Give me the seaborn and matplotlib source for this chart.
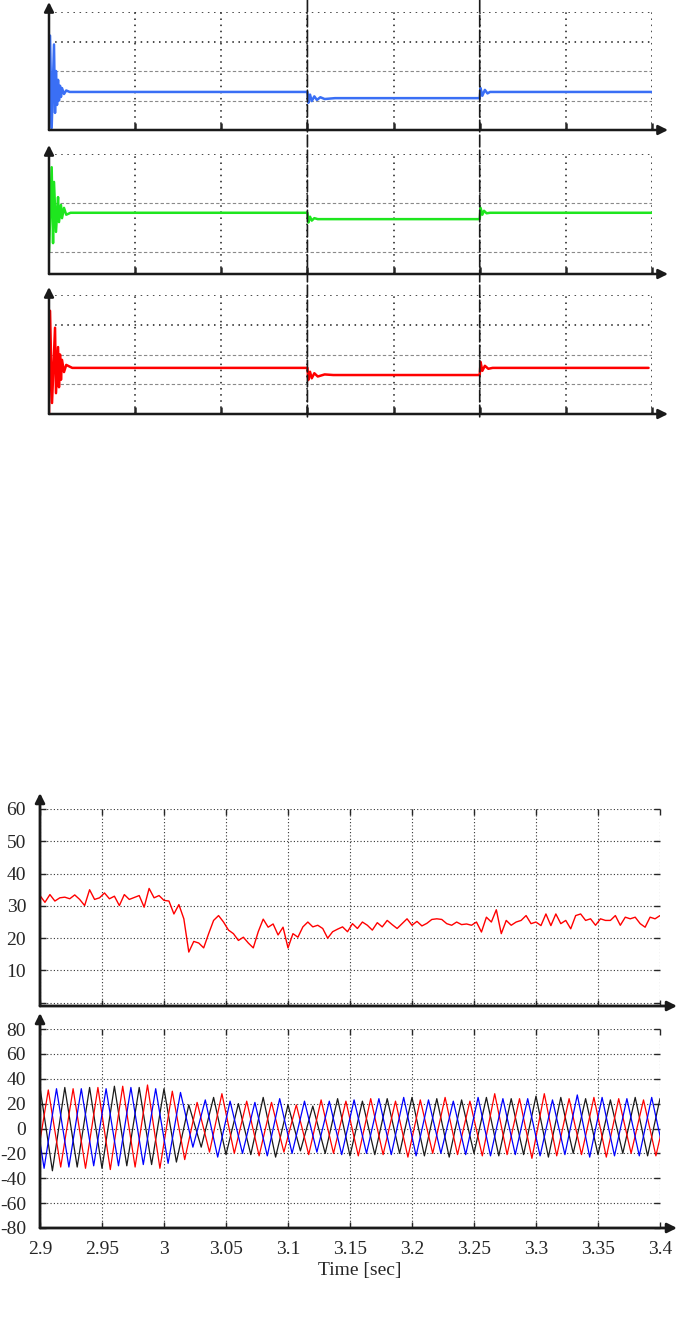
import numpy as np
import seaborn as sns
import matplotlib.pyplot as plt
from matplotlib.patches import ConnectionPatch

## Data

# top three traces: break points (time unit = one grid cell)
blue_t = [0, 0.012, 0.031, 0.058, 0.07, 0.081, 0.093, 0.105, 0.116, 0.128, 0.139, 0.151,
          0.174, 0.2, 0.24, 3.0, 3.01, 3.03, 3.05, 3.08, 3.11, 3.15, 3.2, 3.32,
          5.0, 5.01, 5.03, 5.06, 5.09, 5.12, 7.0]
blue_v = [0, 3.2, 0.07, 2.9, 0.58, 2.0, 0.85, 1.7, 1.0, 1.5, 1.12, 1.42,
          1.22, 1.34, 1.29, 1.29, 0.92, 1.2, 0.98, 1.14, 1.02, 1.11, 1.05, 1.08,
          1.08, 1.42, 1.16, 1.36, 1.24, 1.29, 1.29]

green_t = [0, 0.031, 0.047, 0.058, 0.081, 0.105, 0.116, 0.139, 0.151, 0.174, 0.2, 0.25,
           3.0, 3.01, 3.03, 3.05, 3.08, 3.12, 5.0, 5.01, 5.03, 5.05, 5.08, 5.12, 7.0]
green_v = [0, 1.73, 0.18, 1.43, 0.41, 1.12, 0.61, 0.96, 0.69, 0.9, 0.76, 0.8,
           0.8, 0.6, 0.72, 0.64, 0.69, 0.67, 0.67, 0.9, 0.76, 0.84, 0.79, 0.8, 0.8]

red_t = [0, 0.012, 0.035, 0.07, 0.081, 0.105, 0.116, 0.128, 0.139, 0.151, 0.174, 0.2, 0.27,
         3.0, 3.01, 3.03, 3.05, 3.08, 3.12, 3.2, 3.3, 5.0, 5.01, 5.03, 5.06, 5.1, 5.15, 6.96]
red_v = [0, 3.47, 0.37, 2.9, 0.7, 2.25, 0.9, 2.0, 1.15, 1.82, 1.41, 1.65, 1.55,
         1.55, 1.14, 1.42, 1.2, 1.37, 1.26, 1.33, 1.31, 1.31, 1.75, 1.45, 1.62, 1.52, 1.55, 1.55]

events = [3, 5]

# bottom: measured signal, 126 samples from 2.9 to 3.4 s
sig_v = [33.2, 31.1, 33.5, 31.5, 32.5, 32.7, 32.2, 33.4, 32.0, 30.1, 35.0,
         32.0, 32.5, 34.0, 32.2, 33.0, 30.1, 33.5, 32.0, 32.6, 33.2,
         29.6, 35.4, 32.5, 33.2, 31.7, 31.5, 27.5, 30.4, 26.0, 15.7,
         19.0, 18.5, 17.0, 21.4, 25.5, 27.0, 25.0, 22.5, 21.4, 19.3,
         20.3, 18.5, 17.0, 22.0, 25.9, 23.4, 24.4, 21.0, 23.4, 17.0,
         21.4, 20.3, 23.5, 25.0, 23.5, 24.0, 23.0, 20.0, 22.0, 22.8,
         23.5, 22.0, 24.5, 23.0, 25.0, 24.0, 22.5, 24.8, 23.5, 25.5,
         24.2, 23.0, 24.5, 26.0, 24.0, 25.2, 23.8, 24.6, 25.8, 26.0,
         25.8, 24.5, 24.0, 25.0, 24.2, 24.4, 24.0, 25.0, 21.9, 26.5,
         25.0, 28.8, 21.4, 25.5, 24.0, 25.0, 25.5, 27.0, 24.5, 25.0,
         23.9, 27.5, 23.9, 27.5, 24.5, 25.5, 22.9, 27.0, 27.5, 25.5,
         26.0, 24.0, 26.0, 25.5, 25.5, 27.0, 24.0, 26.5, 26.0, 26.5,
         24.5, 23.4, 26.5, 26.0, 27.0]

# three phase currents: successive peaks / troughs, one every 0.01 s
black_ext = [-32, 33, -34, 33, -31, 33, -32, 34, -30, 33, -29, 32, -27, 19, -15, 25, -21, 20,
             -21, 25, -23, 19, -18, 18, -20, 24, -22, 22, -21, 24, -20, 25, -22, 24, -23, 23,
             -20, 25, -22, 24, -21, 26, -23, 25, -20, 24, -21, 23, -20, 25, -22, 24, -20]
red_ext = [-30, 31, -31, 32, -32, 33, -33, 34, -31, 35, -32, 30, -25, 21, -19, 28, -20, 22,
           -22, 21, -19, 19, -21, 23, -20, 22, -22, 24, -21, 22, -23, 23, -20, 25, -21, 22,
           -22, 28, -21, 24, -24, 28, -22, 24, -21, 25, -23, 24, -20, 23, -22, 22, -21]
blue_ext = [32, -32, 32, -31, 32, -30, 32, -30, 33, -29, 32, -28, 29, -15, 23, -23, 22, -20,
            21, -22, 24, -20, 22, -19, 22, -21, 23, -20, 24, -21, 25, -22, 23, -20, 22, -21,
            25, -22, 24, -21, 24, -22, 23, -21, 27, -23, 25, -22, 24, -22, 25, -21, 24]
phase_start = [2.89, 2.8967, 2.8933]   # time of first extremum (black, red, blue)

xticks_bottom = [2.9, 2.95, 3.0, 3.05, 3.1, 3.15, 3.2, 3.25, 3.3, 3.35, 3.4]
xlabels_bottom = ["2.9", "2.95", "3", "3.05", "3.1", "3.15", "3.2", "3.25", "3.3", "3.35", "3.4"]
yticks_sig = [0, 10, 20, 30, 40, 50, 60]
ylabels_sig = ["", "10", "20", "30", "40", "50", "60"]
yticks_cur = [-80, -60, -40, -20, 0, 20, 40, 60, 80]
ylabels_cur = ["-80", "-60", "-40", "-20", "0", "20", "40", "60", "80"]

## Style
sns.set_theme(style="white")
plt.rcParams["font.family"] = ["Liberation Serif", "DejaVu Serif"]
plt.rcParams["axes.unicode_minus"] = False

W, H = 679, 1324
fig = plt.figure(figsize=(W / 100, H / 100), dpi=100)


def box(l, t, r, b):
    return [l / W, 1 - b / H, (r - l) / W, (b - t) / H]


def arrows(ax, dx, dy, lw):
    # axis lines with arrow heads, dx/dy = overshoot in pixels
    pos = ax.get_position()
    fx = 1 + dx / (pos.width * W)
    fy = 1 + dy / (pos.height * H)
    kw = dict(arrowstyle="-|>", color="k", lw=lw, mutation_scale=14, shrinkA=0, shrinkB=0)
    ax.annotate("", xy=(fx, 0), xytext=(0, 0), xycoords="axes fraction",
                arrowprops=kw, annotation_clip=False)
    ax.annotate("", xy=(0, fy), xytext=(0, 0), xycoords="axes fraction",
                arrowprops=kw, annotation_clip=False)
    for s in ax.spines.values():
        s.set_visible(False)


## Top three panels
top_boxes = [(49, 12, 652, 130), (49, 154, 652, 274), (49, 295, 652, 414)]
top_ylims = [(0, 4), (-0.45, 2), (0, 4)]
top_data = [(blue_t, blue_v, "#3a6ff5"), (green_t, green_v, "#1ee61e"), (red_t, red_v, "#ff0000")]
top_axes = []
for bx, yl, (t, v, c) in zip(top_boxes, top_ylims, top_data):
    ax = fig.add_axes(box(*bx))
    sns.lineplot(x=t, y=v, ax=ax, color=c, lw=1.8, estimator=None, sort=False)
    ax.set_xlim(0, 7)
    ax.set_ylim(*yl)
    ax.set_xticks(range(1, 8))
    ax.set_yticks(np.arange(np.ceil(yl[0]), yl[1] + 0.1, 1))
    ax.set_xticklabels([])
    ax.set_yticklabels([])
    ax.tick_params(axis="x", direction="in", length=5, width=1.8, bottom=True)
    ax.tick_params(axis="y", length=0)
    ax.grid(True, axis="x", color="k", ls=(0, (1, 3)), lw=1.1)
    ax.grid(True, axis="y")
    for gl, val in zip(ax.get_ygridlines(), ax.get_yticks()):
        if val >= yl[1] - 1.5 and yl[1] > 2:
            gl.set(color="k", ls=(0, (1, 3)), lw=1.1)
        elif val == yl[1]:
            gl.set(color="k", ls=(0, (1, 3)), lw=1.1)
        else:
            gl.set(color="#8a8a8a", ls=(0, (3, 2)), lw=0.8)
    ax.set_xlabel("")
    ax.set_ylabel("")
    top_axes.append(ax)

arrows(top_axes[0], 16, 10, 1.8)
arrows(top_axes[1], 16, 9, 1.8)
arrows(top_axes[2], 16, 8, 1.8)

# switching instants, dashed through all three panels
for ev in events:
    con = ConnectionPatch(xyA=(ev, 1.1), coordsA=top_axes[0].get_xaxis_transform(),
                          xyB=(ev, -0.05), coordsB=top_axes[2].get_xaxis_transform(),
                          color="k", lw=1.2, ls=(0, (7, 2)))
    fig.add_artist(con)

## Bottom two panels
ax4 = fig.add_axes(box(40, 809, 660, 1006))
ax5 = fig.add_axes(box(40, 1029, 660, 1228))

t_sig = np.linspace(2.9, 3.4, len(sig_v))
sns.lineplot(x=t_sig, y=sig_v, ax=ax4, color="#ff0000", lw=1.0, estimator=None, sort=False)

for ext, t0, c in zip([black_ext, red_ext, blue_ext], phase_start, ["k", "#ff0000", "#0000ff"]):
    t_ext = t0 + 0.01 * np.arange(len(ext))
    sns.lineplot(x=t_ext, y=ext, ax=ax5, color=c, lw=0.9, estimator=None, sort=False)

for ax, yt, yl, lim in [(ax4, yticks_sig, ylabels_sig, (-1, 60)),
                        (ax5, yticks_cur, ylabels_cur, (-80, 80))]:
    ax.set_xlim(2.9, 3.4)
    ax.set_ylim(*lim)
    ax.set_xticks(xticks_bottom)
    ax.set_yticks(yt)
    ax.set_yticklabels(yl)
    ax.grid(True, color="#333333", ls=(0, (1, 2)), lw=0.8)
    ax.tick_params(direction="in", length=4, width=1, top=True, right=True,
                   bottom=True, left=True, labelsize=14)
    ax.tick_params(axis="y", pad=10)
    ax.tick_params(axis="x", pad=9)
    ax.set_ylabel("")
    arrows(ax, 17, 16, 2.0)

ax4.set_xticklabels([])
ax4.set_xlabel("")
ax5.set_xticklabels(xlabels_bottom)
ax5.set_xlabel("Time [sec]", fontsize=14)
ax5.xaxis.set_label_coords(0.516, -0.17)

fig.savefig("out.png", dpi=100)
